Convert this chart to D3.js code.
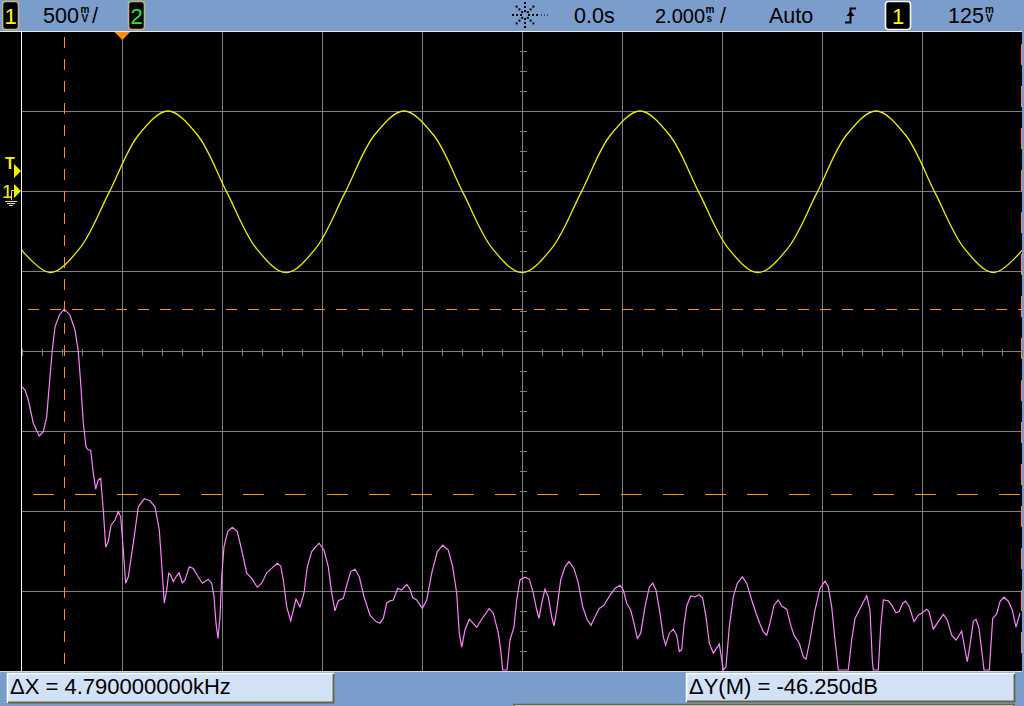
<!DOCTYPE html>
<html><head><meta charset="utf-8">
<script src="https://cdn.jsdelivr.net/npm/d3@7/dist/d3.min.js"></script>
<style>html,body{margin:0;padding:0;background:#7b9dcb;overflow:hidden}svg{display:block}</style>
</head><body><svg id="c" width="1024" height="706"></svg>
<script>
// ---- Channel 1 (yellow) samples : time (ms) / volts
const sineTimeMs = [-10.03,-9.44,-8.85,-8.26,-7.67,-7.08,-6.49,-5.90,-5.31,-4.72,-4.13,-3.54,-2.95,-2.36,-1.77,-1.18,-0.59,0,0.59,1.18,1.77,2.36,2.95,3.54,4.13,4.72,5.31,5.90,6.49,7.08,7.67,8.26,8.85,9.44,10.03];
const sineVolts = [-0.36,-0.51,-0.36,-0.01,0.35,0.50,0.35,-0.01,-0.36,-0.51,-0.36,-0.01,0.35,0.50,0.35,-0.01,-0.36,-0.51,-0.36,-0.01,0.35,0.50,0.35,-0.01,-0.36,-0.51,-0.36,-0.01,0.35,0.50,0.35,-0.01,-0.36,-0.51,-0.36];

// ---- FFT (magenta) : frequency (kHz) / level (dB)
const fftFreqKHz = [0,0.3,0.63,1.13,1.73,2.13,2.47,2.8,3.03,3.3,3.73,4.23,4.8,5.3,5.63,5.87,6.13,6.4,6.63,6.87,7.13,7.37,7.63,7.87,8.13,8.37,8.63,8.9,9.3,9.63,9.87,10.13,10.37,10.63,11.13,11.63,12.23,12.8,13.3,13.73,14.03,14.23,14.47,14.67,14.87,15.13,15.4,15.7,16.03,16.3,16.73,17.13,17.53,18.03,18.63,18.97,19.2,19.4,19.6,19.8,19.97,20.2,20.57,21.03,21.53,21.97,22.47,22.97,23.53,23.97,24.47,24.97,25.53,25.87,26.13,26.47,26.87,27.13,27.4,27.8,28.2,28.53,28.97,29.7,30.2,30.63,30.97,31.3,31.63,32.13,32.53,32.87,33.3,33.73,34.2,34.8,35.4,35.8,36.13,36.47,36.8,37.13,37.57,37.97,38.47,38.8,39.07,39.47,40.03,40.47,40.97,41.53,42.07,42.63,43.07,43.47,43.73,43.97,44.3,44.73,45.07,45.47,46.13,46.73,47.13,47.63,47.87,48.07,48.5,48.8,49.2,49.47,49.8,50.3,50.73,51.13,51.47,51.7,51.97,52.3,52.63,52.97,53.2,53.47,53.87,54.3,54.7,55.2,55.63,56.07,56.53,56.9,57.3,57.73,58.2,58.8,59.3,59.8,60.13,60.47,60.87,61.2,61.53,61.87,62.3,62.73,63.07,63.4,63.8,64.13,64.37,64.73,65.13,65.47,65.73,65.97,66.2,66.47,66.87,67.3,67.73,68.07,68.4,68.73,69.13,69.53,69.73,69.97,70.13,70.4,70.73,71.13,71.53,72.03,72.47,72.97,73.4,73.8,74.13,74.47,74.8,75.2,75.63,75.97,76.47,76.87,77.2,77.73,78.13,78.4,78.8,79.3,79.8,80.3,80.63,80.97,81.3,81.63,82.63,82.97,83.3,83.73,84.07,84.47,84.8,85.03,85.13,85.63,85.87,86.13,86.63,86.97,87.4,87.73,88.07,88.37,88.73,89.2,89.63,90.03,90.47,90.7,91.13,91.63,92.13,92.53,92.97,93.4,93.97,94.3,94.53,94.8,95.13,95.4,95.7,95.97,96.2,96.73,97.07,97.47,97.8,98.2,98.63,99.03,99.4,99.8];
const fftLevelDb = [-88.7,-89.5,-92,-97.8,-101,-99.9,-96.2,-86.2,-79.5,-73.7,-70.8,-69.3,-70.8,-74.5,-79.9,-87.8,-97.8,-103.7,-104.5,-104.5,-110.3,-114.3,-112,-111.6,-119.5,-128.8,-127.4,-123.3,-122,-119.9,-121.2,-129.5,-137.8,-136.2,-127.8,-118.7,-116.7,-117.2,-118.7,-124.5,-135.3,-142.8,-139.5,-135.3,-135.8,-137.4,-136.2,-135.2,-137.7,-137,-133.7,-134.1,-135.8,-137.8,-136.8,-137.8,-141.2,-147.8,-151.6,-146.2,-136.2,-128.7,-124.9,-123.8,-124.9,-129.5,-135.3,-136.6,-138.8,-137.8,-135.2,-134.1,-132.8,-133.5,-137,-143.7,-147.2,-144.5,-141.8,-143.7,-140.3,-133.7,-129.9,-127.8,-129.5,-133.7,-140.3,-144.7,-142.2,-141.6,-137.8,-134.9,-134.3,-136.2,-141.2,-145.8,-147.4,-147.8,-146.6,-142.8,-142.2,-142,-139.1,-139.5,-138.1,-139.3,-141.4,-142,-144.1,-142,-135.3,-129.9,-128.3,-129.5,-133.7,-140.3,-150.3,-153.8,-149.5,-146.8,-147.7,-148.8,-146.2,-144.1,-145.3,-150.3,-154.5,-159.5,-159.5,-152,-148.7,-142,-137,-136.3,-136.8,-140.3,-144.5,-146.6,-142.8,-139.3,-141.2,-146.2,-148.5,-144.5,-137,-133.7,-132.4,-134.1,-137.8,-143.7,-147,-148.3,-146.2,-144.1,-143.3,-140.8,-139.1,-138.3,-139.5,-142.8,-144.5,-147.8,-151.6,-150.3,-143.7,-138.8,-137.8,-139.5,-145.3,-151.2,-153.3,-150.3,-149.3,-150.8,-154.9,-154.5,-148.3,-143.5,-141,-141.2,-140.7,-141.6,-146.2,-152.8,-155.3,-153.8,-153,-157,-159.5,-158.7,-148.7,-141.2,-137.8,-136.2,-137.8,-142,-145.3,-148,-149.9,-150.8,-147.8,-143.3,-142,-143.5,-144.3,-148.3,-150.8,-152.8,-156.2,-156.8,-152,-144.5,-139.1,-137.3,-138.7,-143.7,-152,-159.5,-159.5,-152,-146.6,-144.5,-142.8,-140.9,-144.5,-157,-159.5,-159.5,-148.7,-142,-142.2,-143.3,-145.2,-144.9,-142.8,-142.3,-143.7,-147.4,-145.8,-145.2,-144.3,-144.9,-149.3,-147.4,-145.6,-147,-150.8,-152,-149.8,-154.5,-157.4,-153.3,-147.4,-146.8,-149.1,-154.5,-159.5,-159.5,-146.6,-145.5,-142.4,-141.3,-142.3,-144.5,-148.8,-145.2];

// ---- cursors
const cursorXKHz = [4.23, 99.95];
const cursorYDb = [-69.3, -115.5];
const triggerLevelV = 0.125;

// ---- divisions
const timeDivsMs = [-8,-6,-4,-2,0,2,4,6,8];
const voltDivs = [-2.5,-2,-1.5,-1,-0.5,0,0.5];

// ---- texts
const headerTexts = {ch1Scale:"500", ch1Unit:["m","V"], timePos:"0.0s", timeScale:"2.000", timeUnit:["m","s"], mode:"Auto", trigLevel:"125", trigUnit:["m","V"]};
const footerTexts = ["\u0394X = 4.790000000kHz", "\u0394Y(M) = -46.250dB"];

const FONT = "'Liberation Sans', Arial, sans-serif";
const svg = d3.select("#c");

const x = d3.scaleLinear().domain([-10,10]).range([22,1022]);
const v = d3.scaleLinear().domain([-3,1]).range([671,31]);
const f = d3.scaleLinear().domain([0,100]).range([22,1022]);
const db = d3.scaleLinear().domain([0,-160]).range([32,672]);
const px = p => Math.round(p) + 0.5;

// background areas
svg.append("rect").attr("x",0).attr("y",0).attr("width",1024).attr("height",706).attr("fill","#7b9dcb");
svg.append("rect").attr("x",0).attr("y",31).attr("width",1022).attr("height",641).attr("fill","#000");

// grid
const g = svg.append("g").attr("stroke","#808080").attr("stroke-width",1).attr("shape-rendering","crispEdges");
timeDivsMs.forEach(t => g.append("line").attr("x1",px(x(t))).attr("x2",px(x(t))).attr("y1",32).attr("y2",671));
voltDivs.forEach(vv => g.append("line").attr("x1",22).attr("x2",1022).attr("y1",px(v(vv))).attr("y2",px(v(vv))));
// center minor ticks
const cx = px(x(0)), cy = px(v(-1));
d3.range(-10, 10.001, 0.4).forEach(t => { const xx = px(x(t)); g.append("line").attr("x1",xx).attr("x2",xx).attr("y1",cy-3).attr("y2",cy+4); });
d3.range(-3, 1.0001, 0.125).forEach(vv => { const yy = px(v(vv)); g.append("line").attr("x1",cx-3).attr("x2",cx+4).attr("y1",yy).attr("y2",yy); });

// frame white lines
svg.append("line").attr("x1",0).attr("x2",1022).attr("y1",31.5).attr("y2",31.5).attr("stroke","#e8e8e8");
svg.append("line").attr("x1",21.5).attr("x2",21.5).attr("y1",31).attr("y2",672).attr("stroke","#ffffff");
svg.append("line").attr("x1",0).attr("x2",1022).attr("y1",671.5).attr("y2",671.5).attr("stroke","#d8d8d8");

// clip
svg.append("clipPath").attr("id","clip").append("rect").attr("x",22).attr("y",32).attr("width",1000).attr("height",639);

const orange = "#ff8c14";
// cursors
const cur = svg.append("g").attr("clip-path","url(#clip)").attr("stroke",orange).attr("fill","none").attr("shape-rendering","crispEdges");
cur.append("line").attr("x1",px(f(cursorXKHz[0]))).attr("x2",px(f(cursorXKHz[0]))).attr("y1",31).attr("y2",672)
  .attr("stroke-width",1.3).attr("stroke-dasharray","11,11").attr("stroke-dashoffset",16);
cur.append("line").attr("x1",px(f(cursorXKHz[1]))-0.5).attr("x2",px(f(cursorXKHz[1]))-0.5).attr("y1",31).attr("y2",672)
  .attr("stroke-width",1.3).attr("stroke-dasharray","21,21").attr("stroke-dashoffset",29);
cur.append("line").attr("x1",22).attr("x2",1022).attr("y1",px(db(cursorYDb[0]))).attr("y2",px(db(cursorYDb[0])))
  .attr("stroke-width",1.3).attr("stroke-dasharray","11,11").attr("stroke-dashoffset",16);
cur.append("line").attr("x1",22).attr("x2",1022).attr("y1",px(db(cursorYDb[1]))).attr("y2",px(db(cursorYDb[1])))
  .attr("stroke-width",1.3).attr("stroke-dasharray","21,21").attr("stroke-dashoffset",31);

// traces
const traces = svg.append("g").attr("clip-path","url(#clip)");
traces.append("path").datum(d3.range(sineTimeMs.length))
  .attr("d", d3.line().x(i => x(sineTimeMs[i])).y(i => v(sineVolts[i])).curve(d3.curveCatmullRom.alpha(0.5)))
  .attr("fill","none").attr("stroke","#eeee00").attr("stroke-width",1.3);
traces.append("path").datum(d3.range(fftFreqKHz.length))
  .attr("d", d3.line().x(i => f(fftFreqKHz[i])).y(i => db(Math.max(fftLevelDb[i], -159.6))))
  .attr("fill","none").attr("stroke","#ff80ff").attr("stroke-width",1.2);

// trigger position marker (top)
svg.append("path").attr("d",`M${x(-8)-7.5},32 L${x(-8)+8},32 L${x(-8)+0.5},40 Z`).attr("fill",orange);

// left markers
const yel = "#f0f000";
const yT = v(triggerLevelV), yG = v(0);
svg.append("text").attr("x",5).attr("y",yT-2).attr("font-family",FONT).attr("font-size",16).attr("font-weight","bold").attr("fill",yel).text("T");
svg.append("path").attr("d",`M14,${yT-7} L21,${yT} L14,${yT+7} Z`).attr("fill",yel);
svg.append("text").attr("x",2).attr("y",yG+7).attr("font-family",FONT).attr("font-size",19).attr("fill",yel).text("1");
svg.append("path").attr("d",`M14,${yG-7} L21,${yG} L14,${yG+7} Z`).attr("fill",yel);
svg.append("path").attr("d",`M14.5,${yG-0.5} H11.5 V${yG+9} M5,${yG+10.5} H17 M7,${yG+12.5} H15 M9,${yG+14.5} H13`).attr("stroke",yel).attr("stroke-width",1).attr("fill","none");

// ---- header
const head = svg.append("g").attr("font-family",FONT);
function chanBox(x0, w, label, col, border){
  head.append("rect").attr("x",x0+0.5).attr("y",1.5).attr("width",w).attr("height",28).attr("rx",3).attr("fill","#000").attr("stroke",border).attr("stroke-width",1.6);
  head.append("text").attr("x",x0+0.5+w/2).attr("y",24).attr("text-anchor","middle").attr("font-size",22).attr("fill",col).text(label);
}
// value + stacked unit (+ optional slash) in one text element
function valueUnit(x0, value, size, unitX, pair, slashX){
  const t = head.append("text").attr("x",x0).attr("y",23).attr("font-size",size);
  t.append("tspan").text(value);
  t.append("tspan").attr("x",unitX).attr("y",12.5).attr("font-size",10).attr("font-weight","bold").text(pair[0]);
  t.append("tspan").attr("x",unitX+1).attr("y",21.5).attr("font-size",10).attr("font-weight","bold").text(pair[1]);
  if (slashX != null) t.append("tspan").attr("x",slashX).attr("y",23).attr("font-size",21.5).text("/");
}
chanBox(2, 16, "1", "#ffff00", "#bdb48a");
valueUnit(43, headerTexts.ch1Scale, 21.5, 80.5, headerTexts.ch1Unit, 92);
chanBox(128, 16, "2", "#22ee22", "#bdb48a");

// acquisition icon
const ic = head.append("g").attr("fill","#000");
const icx = 525, icy = 15;
[[1,0],[-1,0],[0,1],[0,-1],[0.7,0.7],[-0.7,0.7],[0.7,-0.7],[-0.7,-0.7]].forEach(([dx,dy]) => {
  [4,8,12].forEach(r => ic.append("rect").attr("x",icx+dx*r-1).attr("y",icy+dy*r-1).attr("width",2).attr("height",2));
});
[16,19,22].forEach(r => ic.append("rect").attr("x",icx+r).attr("y",icy-0.5).attr("width",1).attr("height",1));

head.append("text").attr("x",574).attr("y",23).attr("font-size",21.5).text(headerTexts.timePos);
valueUnit(655, headerTexts.timeScale, 20, 705.5, headerTexts.timeUnit, 720);
head.append("text").attr("x",769).attr("y",23).attr("font-size",21.5).text(headerTexts.mode);
// trigger slope
head.append("path").attr("d","M845,22.5 H850.5 V8.5 H856").attr("stroke","#000").attr("stroke-width",2).attr("fill","none");
head.append("path").attr("d","M846.5,16 L850.5,11 L854.5,16 Z").attr("fill","#000");
chanBox(885, 25, "1", "#ffff00", "#f4f4f4");
valueUnit(948, headerTexts.trigLevel, 21.5, 985, headerTexts.trigUnit, null);

// ---- footer boxes
function footBox(x0, y0, w, h, label){
  svg.append("rect").attr("x",x0).attr("y",y0).attr("width",w).attr("height",h).attr("rx",2).attr("fill","#d2e2f6");
  svg.append("path").attr("d",`M${x0+0.5},${y0+h} V${y0+0.5} H${x0+w}`).attr("stroke","#ffffff").attr("stroke-width",1.5).attr("fill","none");
  svg.append("path").attr("d",`M${x0+1},${y0+h-0.5} H${x0+w-0.5} V${y0+1}`).attr("stroke","#6a6238").attr("stroke-width",1.8).attr("fill","none");
  svg.append("text").attr("x",x0+3).attr("y",y0+21).attr("font-family",FONT).attr("font-size",22).attr("fill","#000").text(label);
}
svg.append("path").attr("d","M514,706 V704.5 H1014 V706").attr("stroke","#6a6238").attr("stroke-width",1.5).attr("fill","#d2e2f6");
footBox(7, 673, 327, 30, footerTexts[0]);
footBox(686, 673, 329, 29, footerTexts[1]);
</script></body></html>
